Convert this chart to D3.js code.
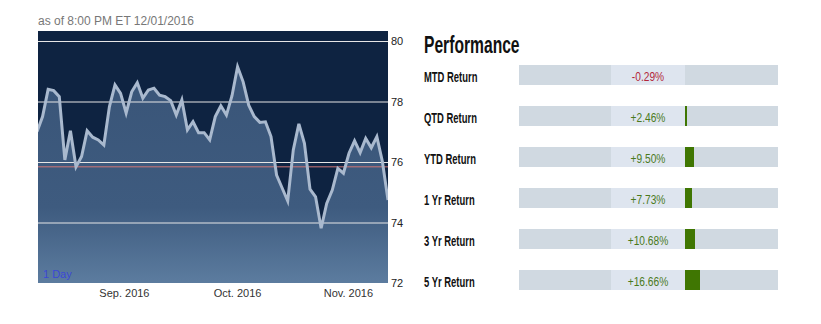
<!DOCTYPE html>
<html><head><meta charset="utf-8">
<script src="https://cdn.jsdelivr.net/npm/d3@7"></script>
<style>body{margin:0;background:#fff}svg{display:block}</style>
</head><body>
<svg id="c" width="821" height="324"></svg>
<script>
const prices = [77.00,77.50,78.40,78.36,78.16,76.07,77.03,75.84,76.18,77.03,
  76.82,76.73,76.56,77.83,78.55,78.27,77.62,78.32,78.62,78.11,
  78.38,78.44,78.21,78.16,78.03,77.55,78.05,77.06,77.33,76.97,
  76.97,76.73,77.50,77.86,77.55,78.19,79.15,78.65,77.88,77.50,
  77.31,77.33,76.84,75.57,75.14,74.71,76.40,77.26,76.62,75.10,
  74.85,73.81,74.63,75.07,75.79,75.63,76.29,76.70,76.31,76.78,
  76.47,76.84,76.01,74.74];
const prevClose = 75.84;
const yTicks = [72, 74, 76, 78, 80];
const monthLabels = ["Sep. 2016", "Oct. 2016", "Nov. 2016"];
const monthIdx = [15.6, 35.9, 55.8];
const perfLabels = ["MTD Return","QTD Return","YTD Return","1 Yr Return","3 Yr Return","5 Yr Return"];
const perfValues = [-0.29, 2.46, 9.50, 7.73, 10.68, 16.66];

const svg = d3.select("#c");
const L = 38, R = 388, T = 31, B = 283;
const x = d3.scaleLinear().domain([0, prices.length - 1]).range([37, 388]);
const y = d3.scaleLinear().domain([72, 80]).range([B, 41]);

svg.append("text").attr("x", 38).attr("y", 25).attr("font-family", "Liberation Sans, Arial")
  .attr("font-size", 12).attr("fill", "#777").text("as of 8:00 PM ET 12/01/2016");

const defs = svg.append("defs");
defs.append("clipPath").attr("id", "clip").append("rect").attr("x", L).attr("y", T).attr("width", R - L).attr("height", B - T);
const g = defs.append("linearGradient").attr("id", "grad")
  .attr("gradientUnits", "userSpaceOnUse").attr("x1", 0).attr("x2", 0).attr("y1", T).attr("y2", B);
g.append("stop").attr("offset", "0").attr("stop-color", "#385376");
g.append("stop").attr("offset", "0.7").attr("stop-color", "#3e5b7f");
g.append("stop").attr("offset", "1").attr("stop-color", "#5c7c9f");

svg.append("rect").attr("x", L).attr("y", T).attr("width", R - L).attr("height", B - T).attr("fill", "#0e2341");

const plot = svg.append("g").attr("clip-path", "url(#clip)");
plot.append("path").datum(prices)
  .attr("d", d3.area().x((d, i) => x(i)).y0(B).y1(d => y(d)))
  .attr("fill", "url(#grad)");

plot.selectAll("line.grid").data(yTicks).join("line").attr("class", "grid")
  .attr("x1", L).attr("x2", R).attr("y1", d => y(d) + 0.5).attr("y2", d => y(d) + 0.5)
  .attr("stroke", "#e6e6e6").attr("stroke-width", 1);
plot.append("line").attr("x1", L).attr("x2", R).attr("y1", y(prevClose)).attr("y2", y(prevClose))
  .attr("stroke", "#d27878").attr("stroke-width", 1);

plot.append("path").datum(prices)
  .attr("d", d3.line().x((d, i) => x(i)).y(d => y(d)))
  .attr("fill", "none").attr("stroke", "#a9b9ce").attr("stroke-width", 3).attr("stroke-linejoin", "miter");

svg.append("text").attr("x", 43).attr("y", 278).attr("font-family", "Liberation Sans, Arial")
  .attr("font-size", 11).attr("fill", "#3c48d6").text("1 Day");

// right axis
const ya = svg.append("g").attr("transform", `translate(${R},0)`)
  .call(d3.axisRight(y).tickValues(yTicks).tickSize(0).tickPadding(3).tickFormat(d3.format("d")));
ya.select(".domain").remove();
ya.selectAll("text").attr("font-family", "Liberation Sans, Arial").attr("font-size", 11).attr("fill", "#222");

// month labels
const xa = svg.append("g").attr("transform", `translate(0,${B})`)
  .call(d3.axisBottom(x).tickValues(monthIdx).tickSize(0).tickPadding(6).tickFormat((d, i) => monthLabels[i]));
xa.select(".domain").remove();
xa.selectAll("text").attr("font-family", "Liberation Sans, Arial").attr("font-size", 11).attr("fill", "#333");

// Performance panel
svg.append("text").attr("transform", "translate(424,53) scale(0.68,1)")
  .attr("font-family", "Liberation Sans, Arial").attr("font-weight", "bold").attr("font-size", 23)
  .attr("fill", "#111").text("Performance");

const rowY = d3.scalePoint().domain(perfLabels).range([65, 270]);
const pos = d3.scaleLinear().domain([0, 100]).range([685, 778]);
const neg = d3.scaleLinear().domain([-100, 0]).range([519, 611]);
const rows = svg.selectAll("g.row").data(perfLabels).join("g").attr("class", "row")
  .attr("transform", d => `translate(0,${rowY(d)})`);
rows.append("text").attr("transform", "translate(424,16.5) scale(0.63,1)")
  .attr("font-family", "Liberation Sans, Arial").attr("font-weight", "bold").attr("font-size", 15)
  .attr("fill", "#111").text(d => d);
rows.append("rect").attr("x", neg(-100)).attr("width", pos(100) - neg(-100)).attr("height", 20).attr("fill", "#d0d9e1");
rows.append("rect").attr("x", neg(0)).attr("width", pos(0) - neg(0)).attr("height", 20).attr("fill", "#dee5ef");
rows.append("rect").attr("shape-rendering", "crispEdges")
  .attr("x", (d, i) => perfValues[i] >= 0 ? pos(0) : neg(perfValues[i]))
  .attr("width", (d, i) => perfValues[i] >= 0 ? pos(perfValues[i]) - pos(0) : neg(0) - neg(perfValues[i]))
  .attr("height", 20).attr("fill", (d, i) => perfValues[i] >= 0 ? "#3f7602" : "#b3263a");
rows.append("text")
  .attr("transform", "translate(" + ((neg(0) + pos(0)) / 2) + ",15.5) scale(0.85,1)")
  .attr("text-anchor", "middle").attr("font-family", "Liberation Sans, Arial").attr("font-size", 12)
  .attr("fill", (d, i) => perfValues[i] >= 0 ? "#4b7a1c" : "#b3263a")
  .text((d, i) => (perfValues[i] >= 0 ? "+" : "") + perfValues[i].toFixed(2) + "%");
</script>
</body></html>
